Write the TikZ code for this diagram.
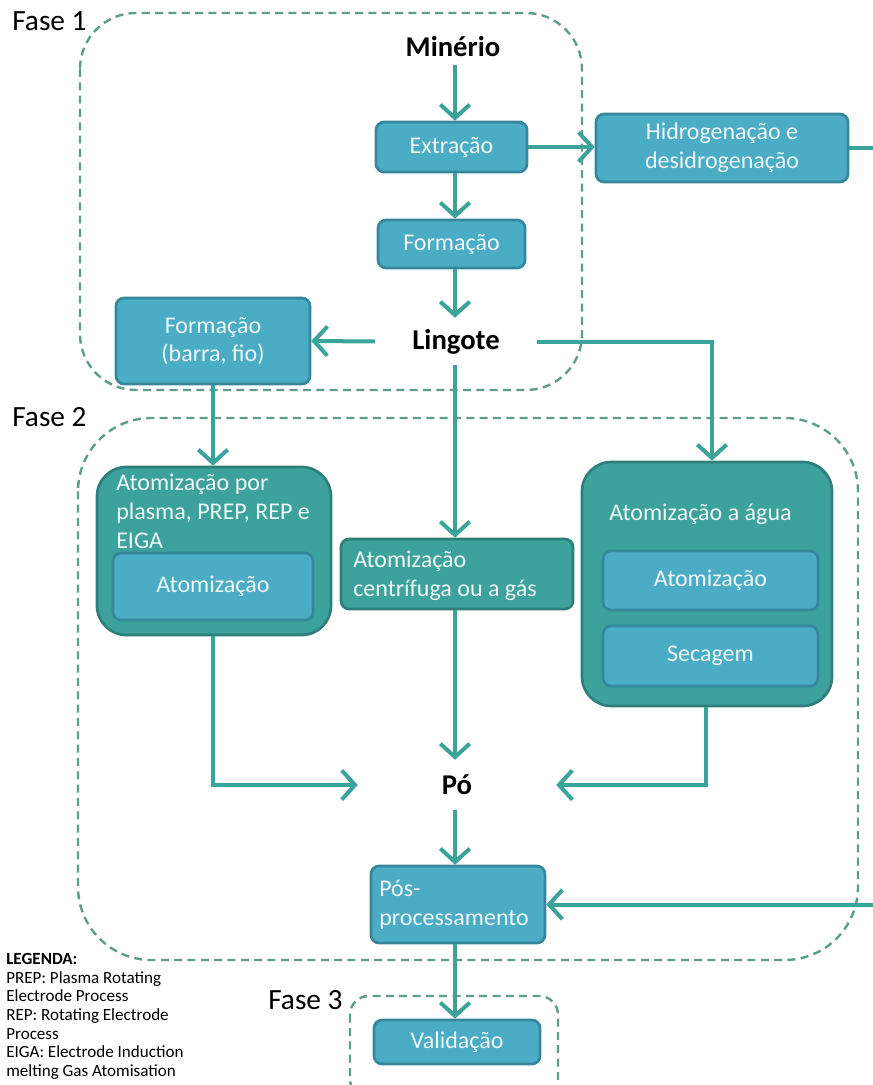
\documentclass[tikz,border=0pt]{standalone}
\usepackage{fontspec}
\setmainfont{Carlito}
\usetikzlibrary{arrows.meta,fit}
\definecolor{lightfill}{HTML}{4BACC6}
\definecolor{lightedge}{HTML}{37879C}
\definecolor{darkfill}{HTML}{3CA29B}
\definecolor{darkedge}{HTML}{2E7F7A}
\definecolor{flow}{HTML}{3AA49B}
\definecolor{phase}{HTML}{5E9C8E}
\definecolor{boxtext}{HTML}{EEF7FA}
\tikzset{
  lbox/.style={draw=lightedge, line width=2pt, fill=lightfill, rounded corners=6pt, inner sep=0pt},
  dbox/.style={draw=darkedge, line width=2pt, fill=darkfill, rounded corners=6pt, inner sep=0pt},
  bigbox/.style={draw=darkedge, line width=2pt, fill=darkfill, rounded corners=22pt, inner sep=0pt},
  btext/.style={text=boxtext, font=\fontsize{18}{21.5}\selectfont, inner sep=0pt},
  keyword/.style={font=\bfseries\fontsize{21.5}{24}\selectfont, inner sep=0pt},
  phasebox/.style={draw=phase, line width=1.8pt, dash pattern=on 6pt off 4pt},
  phaselabel/.style={font=\fontsize{22}{24}\selectfont, anchor=west, inner sep=0pt},
  flowline/.style={draw=flow, line width=3pt,
    -{Straight Barb[length=10pt, width=22pt, line width=3pt]}},
  legendtext/.style={font=\fontsize{12.8}{14}\selectfont, align=left, anchor=north west, inner sep=0pt}
}
\begin{document}
\begin{tikzpicture}[x=0.75pt, y=-0.75pt]
\useasboundingbox (0,0) rectangle (873,1085);
\fill[white] (0,0) rectangle (873,1085);

% phase frames
\draw[phasebox, rounded corners=42pt] (80,13) rectangle (582,390);
\draw[phasebox, rounded corners=55pt] (78,418) rectangle (858,960);
\draw[phasebox, rounded corners=14pt] (350,996) rectangle (558,1098);
\node[phaselabel] (f1) at (12,21) {Fase 1};
\node[phaselabel] (f2) at (12,417) {Fase 2};
\node[phaselabel] (f3) at (268,1000) {Fase 3};

% phase 1
\node[keyword, minimum width=100*0.75pt, minimum height=36*0.75pt] (minerio) at (453,47) {Minério};
\node[lbox, fit={(376,122)(527,172)}] (extr) {};
\node[btext] at (extr.center) {Extração};
\node[lbox, fit={(378,220)(525,268)}] (form) {};
\node[btext] at (form.center) {Formação};
\node[keyword, minimum width=161*0.75pt, minimum height=47*0.75pt] (lingote) at (456,341.5) {Lingote};
\node[lbox, fit={(116,298)(310,384)}] (barra) {};
\node[btext, align=center] at (barra.center) {Formação\\(barra, fio)};
\node[lbox, fit={(596,114)(848,182)}] (hidro) {};
\node[btext, align=center] at (hidro.center) {Hidrogenação e\\desidrogenação};

% phase 2: plasma route
\node[bigbox, fit={(97,467)(331,635)}] (plasma) {};
\node[btext, align=left, anchor=north west] (plasmat) at (116,474) {Atomização por\\plasma, PREP, REP e\\EIGA};
\node[lbox, fit={(113,553)(313,620)}] (plasmaat) {};
\node[btext] at (plasmaat.center) {Atomização};

% phase 2: centrifugal / gas route
\node[dbox, fit={(341,539)(573,609)}] (centr) {};
\node[btext, align=left, anchor=west] at (353,576) {Atomização\\centrífuga ou a gás};

% phase 2: water route
\node[bigbox, fit={(582,462)(832,706)}] (agua) {};
\node[btext, anchor=west] (aguat) at (609,514) {Atomização a água};
\node[lbox, fit={(603,551)(818,610)}] (aguaat) {};
\node[btext] at (aguaat.center) {Atomização};
\node[lbox, fit={(603,626)(818,686)}] (secagem) {};
\node[btext] at (secagem.center) {Secagem};

% powder and post-processing
\node[keyword, minimum width=198*0.75pt, minimum height=50*0.75pt] (po) at (457,785) {Pó};
\node[lbox, fit={(371,866)(545,943)}] (pos) {};
\node[btext, align=left, anchor=west] at (379,905) {Pós-\\processamento};

% phase 3
\node[lbox, fit={(374,1020)(540,1064)}] (valid) {};
\node[btext] at (valid.center) {Validação};

% connectors
\draw[flowline] (minerio.south -| 455,0) -- (extr.north -| 455,0);
\draw[flowline] (extr.south -| 455,0) -- (form.north -| 455,0);
\draw[flowline] (form.south -| 455,0) -- (lingote.north -| 455,0);
\draw[flowline] (lingote.west) -- (barra.east);
\draw[flowline] (lingote.east) -| (agua.north -| 712,0);
\draw[flowline] (lingote.south -| 455,0) -- (centr.north -| 455,0);
\draw[flowline] (barra.south) -- (plasma.north -| barra.south);
\draw[flowline] (plasma.south -| 213,0) |- (po.west);
\draw[flowline] (centr.south -| 455,0) -- (po.north -| 455,0);
\draw[flowline] (agua.south -| 706,0) |- (po.east);
\draw[flowline] (po.south -| 455,0) -- (pos.north -| 455,0);
\draw[flowline] (pos.south -| 455,0) -- (valid.north -| 455,0);
\draw[flowline] (extr.east) -- (extr.east -| hidro.west);
\draw[flowline] (hidro.east) -- (895,148) |- (pos.east);

% legend
\node[legendtext] (legenda) at (6,953) {\textbf{LEGENDA:}\\PREP: Plasma Rotating\\Electrode Process\\REP: Rotating Electrode\\Process\\EIGA: Electrode Induction\\melting Gas Atomisation};
\end{tikzpicture}
\end{document}
